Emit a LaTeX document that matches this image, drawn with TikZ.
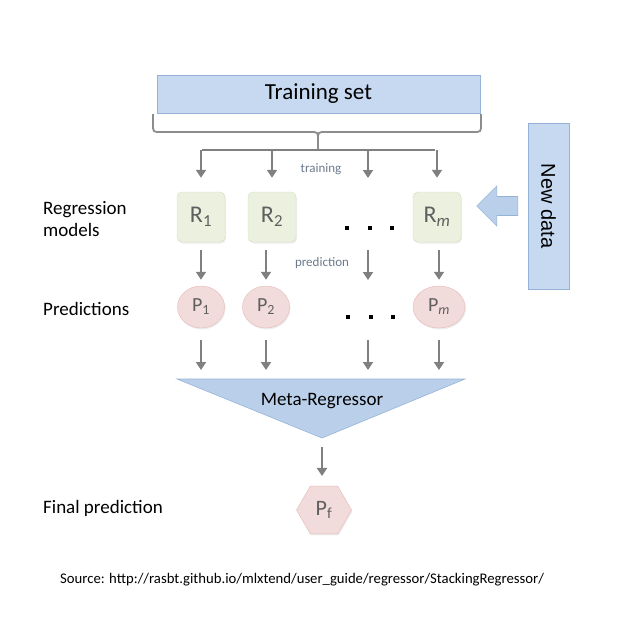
\documentclass[tikz,border=0pt]{standalone}
\usepackage{fontspec}
\setmainfont{Carlito}
\newfontfamily\arialfont{Liberation Sans}
\usetikzlibrary{arrows.meta,shapes.geometric,shadows}

\definecolor{bluefill}{HTML}{C6D9F1}
\definecolor{blueline}{HTML}{95B3D7}
\definecolor{metafill}{HTML}{BAD0EA}
\definecolor{rfill}{HTML}{EBF1DE}
\definecolor{rline}{HTML}{D3DFBB}
\definecolor{pfill}{HTML}{F2DCDB}
\definecolor{pline}{HTML}{E6B9B8}
\definecolor{arrgray}{HTML}{808080}
\definecolor{txtgray}{HTML}{5F5F5F}
\definecolor{labgray}{HTML}{6C7A8C}

\begin{document}
\begin{tikzpicture}[x=1pt,y=-1pt,
  arr/.style={draw=arrgray,line width=2.6pt,-{Triangle[length=8pt,width=10pt]}},
  rbox/.style={draw=rline,fill=rfill,rounded corners=5pt,minimum width=48pt,minimum height=50pt,
    inner sep=0pt,text=txtgray,font=\fontsize{24}{24}\selectfont,
    drop shadow={opacity=0.15,shadow xshift=1pt,shadow yshift=-1.5pt}},
  pell/.style={ellipse,draw=pline,fill=pfill,minimum width=47pt,minimum height=42pt,
    inner sep=0pt,text=txtgray,font=\fontsize{20}{20}\selectfont,
    drop shadow={opacity=0.15,shadow xshift=1pt,shadow yshift=-1.5pt}},
  side/.style={anchor=west,align=left,inner sep=0pt,font=\fontsize{19}{22}\selectfont},
  small/.style={text=labgray,font=\fontsize{13}{13}\selectfont},
  dots/.style={fill=black,minimum size=4.5pt,inner sep=0pt}]
\useasboundingbox (0,0) rectangle (619,626);

% training set and brace
\node[draw=blueline,fill=bluefill,minimum width=323pt,minimum height=38pt,
  font=\fontsize{23}{23}\selectfont] (train) at (318.5,94) {Training set};
\draw[arrgray!90,line width=1.8pt] (153,114) -- (153,124) .. controls (153,132) .. (161,132)
  -- (310,132) .. controls (318,132) .. (318,140);
\draw[arrgray!90,line width=1.8pt] (481,114) -- (481,124) .. controls (481,132) .. (473,132)
  -- (326,132) .. controls (318,132) .. (318,140) -- (318,150);
\coordinate (split) at (318,150);
\draw[arrgray,line width=2.6pt] (202,150) -- (435,150);

% regression models
\node[rbox] (r1) at (201,217) {R\textsubscript{1}};
\node[rbox] (r2) at (272,217) {R\textsubscript{2}};
\node[rbox] (rm) at (437,217) {R\textsubscript{\itshape m}};
\foreach \i/\x in {1/347,2/370,3/392}
  \node[dots] (rdot\i) at (\x,228) {};
\coordinate (c3) at (368,0);

% predictions
\node[pell] (p1) at (201,307) {P\textsubscript{1}};
\node[pell] (p2) at (266,307) {P\textsubscript{2}};
\node[pell,minimum width=52pt] (pm) at (439,307) {P\textsubscript{\itshape m}};
\foreach \i/\x in {1/348,2/371,3/393}
  \node[dots] (pdot\i) at (\x,317) {};

\node[small] (lbltrain) at (321,169) {training};
\node[small] (lblpred) at (322,263) {prediction};

% meta regressor
\coordinate (mtl) at (177,379);
\coordinate (mtr) at (465,379);
\coordinate (mtip) at (322,438);
\filldraw[fill=metafill,draw=blueline,line width=0.6pt] (mtl) -- (mtr) -- (mtip) -- cycle;
\node[font=\fontsize{19}{19}\selectfont] (meta) at (322,401) {Meta-Regressor};

\node[regular polygon,regular polygon sides=6,minimum size=55pt,inner sep=0pt,
  draw=pline,fill=pfill,text=txtgray,font=\fontsize{22}{22}\selectfont,
  drop shadow={opacity=0.15,shadow xshift=1pt,shadow yshift=-1.5pt}] (pf) at (324,510) {P\textsubscript{f}};

% arrows
\draw[arr] (r1 |- split) -- ([yshift=14pt]r1.north);
\draw[arr] (r2 |- split) -- ([yshift=14pt]r2.north);
\draw[arr] (c3 |- split) -- (c3 |- 0,178);
\draw[arr] (rm |- split) -- ([yshift=14pt]rm.north);

\draw[arr,shorten <=8pt,shorten >=6pt] (r1) -- (p1);
\draw[arr,shorten <=8pt,shorten >=6pt] (r2.south -| p2) -- (p2);
\draw[arr] (c3 |- 0,250) -- (c3 |- 0,280);
\draw[arr,shorten <=8pt,shorten >=6pt] (rm.south -| pm) -- (pm);

\draw[arr,shorten <=12pt,shorten >=9pt] (p1) -- (p1 |- mtl);
\draw[arr,shorten <=12pt,shorten >=9pt] (p2) -- (p2 |- mtl);
\draw[arr] (c3 |- 0,340) -- (c3 |- 0,370);
\draw[arr,shorten <=12pt,shorten >=9pt] (pm) -- (pm |- mtl);

\draw[arr,shorten <=9pt,shorten >=10pt] (mtip) -- (mtip |- pf.north);

% new data
\node[draw=blueline,fill=bluefill,minimum width=41pt,minimum height=166pt,inner sep=0pt,
  font=\arialfont\fontsize{20}{20}\selectfont] (newdata) at (548.5,206) {\rotatebox{-90}{New data}};
\filldraw[fill=metafill,draw=blueline,line width=0.6pt] ([xshift=-10pt]newdata.west) ++(0,-9.5)
  -- ++(-21,0) -- ++(0,-10.5) -- ++(-20,20) -- ++(20,20) -- ++(0,-10.5) -- ++(21,0) -- cycle;

% side labels
\node[side] (lblmodels) at (43,219) {Regression\\models};
\node[side] (lblpreds) at (43,309) {Predictions};
\node[side] (lblfinal) at (43,508) {Final prediction};

\node[anchor=west,inner sep=0pt,font=\fontsize{14.7}{14.7}\selectfont] (source) at (60,580)
  {Source: http://rasbt.github.io/mlxtend/user\_guide/regressor/StackingRegressor/};
\end{tikzpicture}
\end{document}
